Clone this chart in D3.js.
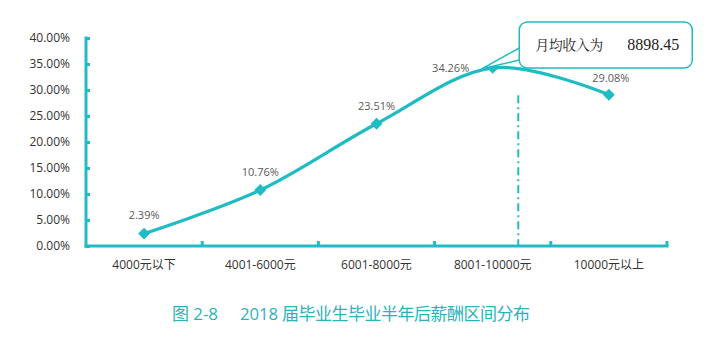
<!DOCTYPE html>
<html>
<head>
<meta charset="utf-8">
<script src="https://cdn.jsdelivr.net/npm/d3@7"></script>
<style>
  html, body { margin: 0; padding: 0; background: #fff; }
  svg { display: block; }
</style>
</head>
<body>
<svg id="chart" width="715" height="339"></svg>
<script>
// Salary bands for graduates half a year after graduation
const categories = ["4000元以下", "4001-6000元", "6001-8000元", "8001-10000元", "10000元以上"];
const shares = [2.39, 10.76, 23.51, 34.26, 29.08];
const yTicks = [0, 5, 10, 15, 20, 25, 30, 35, 40];
const avgIncome = 8898.45;
const avgBand = "8001-10000元";
const avgBandPos = 0.72;           // where the average marker sits inside its band
const figNo = "图 2-8";
const titleYear = "2018";
const titleText = "届毕业生毕业半年后薪酬区间分布";

const teal = "#1fbcc4";
const svg = d3.select("#chart");
const font = "'Open Sans', 'Noto Sans CJK SC', sans-serif";

const plot = { left: 86, right: 667, top: 38, bottom: 246 };

const x = d3.scaleBand().domain(categories).range([plot.left, plot.right]).padding(0);
const y = d3.scaleLinear().domain([0, 40]).range([plot.bottom, plot.top]);

// Y axis
const yAxis = svg.append("g").attr("transform", `translate(${plot.left},0)`)
  .call(d3.axisRight(y).tickValues(yTicks).tickSize(4).tickFormat(""));
yAxis.select(".domain").remove();
yAxis.selectAll(".tick line").attr("stroke", teal).attr("stroke-width", 3);
svg.append("line").attr("x1", plot.left).attr("x2", plot.left)
  .attr("y1", y(40) - 1.5).attr("y2", plot.bottom + 1.5)
  .attr("stroke", teal).attr("stroke-width", 3);
svg.append("g").selectAll("text").data(yTicks).join("text")
  .attr("x", 70).attr("y", d => y(d)).attr("dy", "0.35em")
  .attr("text-anchor", "end").attr("font-family", font).attr("font-size", 12)
  .attr("fill", "#333").text(d => d.toFixed(2) + "%");

// X axis
const bounds = categories.map(c => x(c)).concat([plot.right]);
svg.append("line").attr("x1", plot.left - 1.5).attr("x2", plot.right + 1.5)
  .attr("y1", plot.bottom).attr("y2", plot.bottom)
  .attr("stroke", teal).attr("stroke-width", 3);
svg.append("g").selectAll("line").data(bounds.slice(1)).join("line")
  .attr("x1", d => d).attr("x2", d => d)
  .attr("y1", plot.bottom).attr("y2", plot.bottom - 5)
  .attr("stroke", teal).attr("stroke-width", 3);
svg.append("g").selectAll("text").data(categories).join("text")
  .attr("x", d => x(d) + x.bandwidth() / 2).attr("y", 269)
  .attr("text-anchor", "middle").attr("font-family", font).attr("font-size", 12)
  .attr("fill", "#333").text(d => d);

// Average income marker
const avgX = x(avgBand) + x.bandwidth() * avgBandPos;
svg.append("line").attr("x1", avgX).attr("x2", avgX)
  .attr("y1", y(29)).attr("y2", plot.bottom)
  .attr("stroke", teal).attr("stroke-width", 2)
  .attr("stroke-dasharray", "8,4,2,4");

// Smoothed line
const pts = categories.map((c, i) => [x(c) + x.bandwidth() / 2, y(shares[i])]);
svg.append("path").datum(pts)
  .attr("d", d3.line().curve(d3.curveCatmullRom.alpha(0)))
  .attr("fill", "none").attr("stroke", teal).attr("stroke-width", 3.2);

// Diamond markers
svg.append("g").selectAll("path").data(pts).join("path")
  .attr("transform", d => `translate(${d[0]},${d[1]})`)
  .attr("d", d3.symbol(d3.symbolDiamond2, 90))
  .attr("fill", teal);

// Value labels
const labelOffsets = [[0, -18], [0, -18], [0, -18], [-42, 0], [2, -17]];
svg.append("g").selectAll("text").data(pts).join("text")
  .attr("x", (d, i) => d[0] + labelOffsets[i][0])
  .attr("y", (d, i) => d[1] + labelOffsets[i][1])
  .attr("dy", "0.35em")
  .attr("text-anchor", "middle").attr("font-family", font).attr("font-size", 11)
  .attr("fill", "#595959").text((d, i) => shares[i].toFixed(2) + "%");

// Callout box
const peak = pts[3];
const box = { x: avgX + 1, y: 22, w: 173, h: 46 };
const g = svg.append("g");
g.append("path")
  .attr("d", `M${box.x},${box.y + 26} L${peak[0] - 11},${peak[1] + 1} L${box.x},${box.y + 38}`)
  .attr("fill", "#fff").attr("stroke", teal).attr("stroke-width", 1.5);
g.append("rect").attr("x", box.x).attr("y", box.y).attr("width", box.w).attr("height", box.h)
  .attr("rx", 8).attr("fill", "#fff").attr("stroke", teal).attr("stroke-width", 1.5);
g.append("text").attr("x", box.x + 16).attr("y", box.y + 28)
  .attr("font-family", "'Noto Serif CJK SC', 'Noto Sans CJK SC', serif")
  .attr("font-size", 14).attr("fill", "#222")
  .attr("textLength", 68).attr("lengthAdjust", "spacing")
  .text("月均收入为");
g.append("text").attr("x", box.x + 108).attr("y", box.y + 28)
  .attr("font-family", "'Liberation Serif', serif")
  .attr("font-size", 16).attr("fill", "#222")
  .attr("textLength", 52).attr("lengthAdjust", "spacingAndGlyphs")
  .text(avgIncome.toFixed(2));

// Title
const tFont = "'Open Sans', 'Noto Sans CJK SC', sans-serif";
svg.append("text").attr("x", 172).attr("y", 320)
  .attr("font-family", tFont).attr("font-size", 17).attr("fill", "#2ab3bb")
  .attr("textLength", 46).attr("lengthAdjust", "spacing")
  .style("white-space", "pre").text(figNo);
svg.append("text").attr("x", 240).attr("y", 320)
  .attr("font-family", tFont).attr("font-size", 17).attr("fill", "#2ab3bb")
  .attr("textLength", 38).attr("lengthAdjust", "spacingAndGlyphs")
  .text(titleYear);
svg.append("text").attr("x", 282).attr("y", 320)
  .attr("font-family", tFont).attr("font-size", 17).attr("fill", "#2ab3bb")
  .attr("textLength", 248).attr("lengthAdjust", "spacing")
  .text(titleText);
</script>
</body>
</html>
